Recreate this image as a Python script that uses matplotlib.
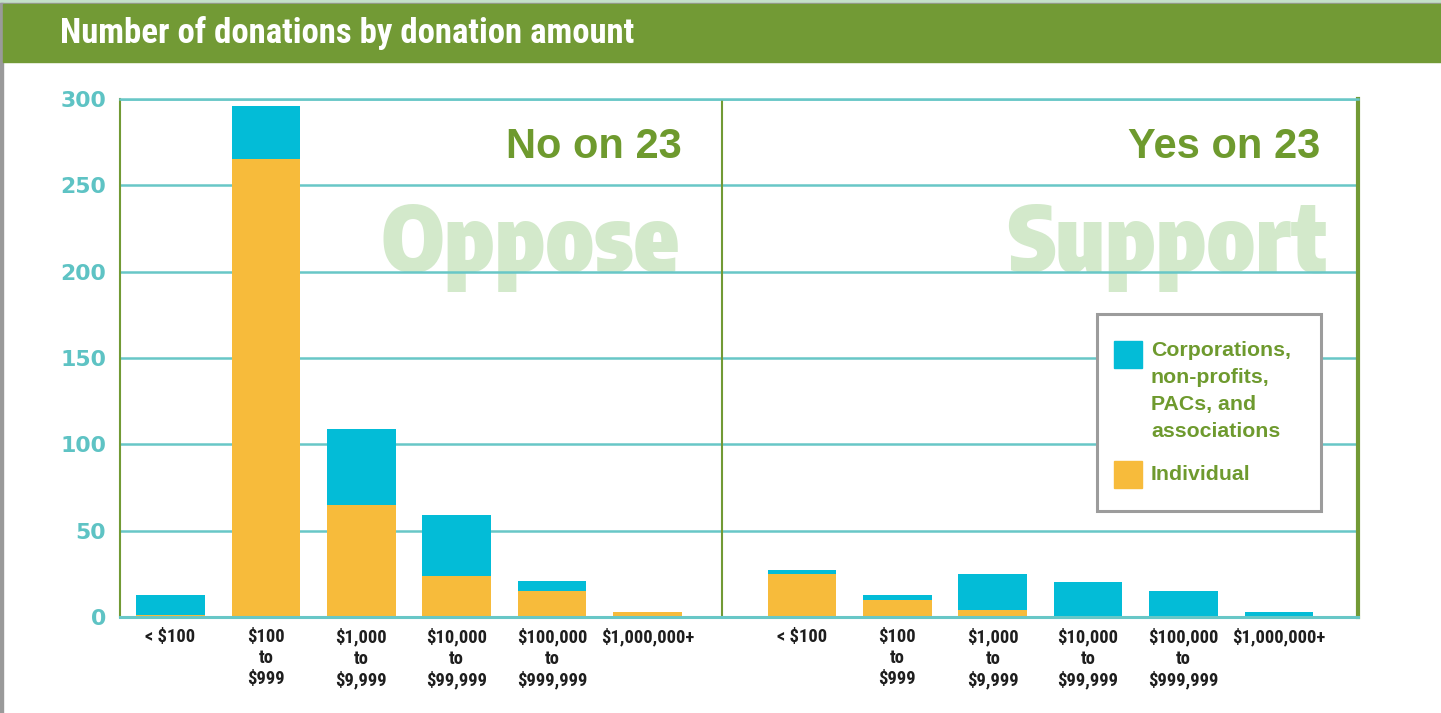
import numpy as np
import matplotlib
matplotlib.use("Agg")
import matplotlib.pyplot as plt
from matplotlib.patches import Rectangle

categories = ["< $100", "$100\nto\n$999", "$1,000\nto\n$9,999", "$10,000\nto\n$99,999",
              "$100,000\nto\n$999,999", "$1,000,000+"]
oppose_individual = [1, 265, 65, 24, 15, 3]
oppose_corp = [12, 31, 44, 35, 6, 0]
support_individual = [25, 10, 4, 0, 0, 0]
support_corp = [2, 3, 21, 20, 15, 3]
yticks = [0, 50, 100, 150, 200, 250, 300]

GREEN = "#729a35"
TEXT_GREEN = "#6e9a2e"
TEAL = "#68c7c7"
CYAN = "#03bcd7"
YELLOW = "#f7bb3b"
WATER = "#d3e9cb"

plt.rcParams["text.parse_math"] = False
COND = ["Roboto Condensed", "Liberation Sans"]
HEAVY = ["Encode Sans Condensed", "Liberation Sans"]
WIDE = ["Liberation Sans", "DejaVu Sans"]

W, H = 1441, 713
fig = plt.figure(figsize=(W / 100, H / 100), dpi=100)

# frame and title bar
fig.patches.append(Rectangle((0, 1 - 3 / H), 1, 3 / H, transform=fig.transFigure, color="#c4e0c9"))
fig.patches.append(Rectangle((0, 1 - 4 / H), 1, 1.2 / H, transform=fig.transFigure, color="#9a9a9a"))
fig.patches.append(Rectangle((0, 0), 3 / W, 1 - 3 / H, transform=fig.transFigure, color="#9a9a9a"))
fig.patches.append(Rectangle((3 / W, 1 - 62 / H), 1, 58 / H, transform=fig.transFigure, color=GREEN))
fig.text(60 / W, 1 - 33 / H, "Number of donations by donation amount", color="white",
         fontsize=25, fontweight="bold", family=COND, va="center", ha="left")

ax = fig.add_axes([120 / W, 1 - 617 / H, (1358 - 120) / W, (617 - 99) / H])

x_left = np.arange(len(categories))
x_right = np.arange(len(categories)) + 6.62
width = 0.72

ax.bar(x_left, oppose_individual, width, color=YELLOW, zorder=2)
ax.bar(x_left, oppose_corp, width, bottom=oppose_individual, color=CYAN, zorder=2)
ax.bar(x_right, support_individual, width, color=YELLOW, zorder=2)
ax.bar(x_right, support_corp, width, bottom=support_individual, color=CYAN, zorder=2)

ax.set_xlim(-0.53, 12.45)
ax.set_ylim(0, 300)
ax.set_yticks(yticks)
ax.set_xticks(np.concatenate([x_left, x_right]))
ax.set_xticklabels(categories + categories, fontsize=13.3, fontweight="bold",
                   family=COND, color="#1e1e1e", linespacing=1.22)
ax.tick_params(axis="x", length=0, pad=8)
ax.tick_params(axis="y", length=0, pad=10, labelsize=15.8, labelcolor="#5ec3c4")
for lab in ax.get_yticklabels():
    lab.set_fontweight("bold")
    lab.set_family("DejaVu Sans")

ax.set_axisbelow(True)
ax.yaxis.grid(True, color=TEAL, linewidth=1.8)
ax.spines["top"].set_color(TEAL)
ax.spines["top"].set_linewidth(1.8)
ax.spines["bottom"].set_color(TEAL)
ax.spines["bottom"].set_linewidth(2.2)
ax.spines["left"].set_color(GREEN)
ax.spines["left"].set_linewidth(1.5)
ax.spines["right"].set_color(GREEN)
ax.spines["right"].set_linewidth(3)
ax.axvline(5.78, color=GREEN, linewidth=1.5, zorder=1)

# panel headings and watermarks
ax.text((680 - 120) / 1238, 200, "Oppose", transform=ax.get_yaxis_transform(), ha="right",
        va="baseline", fontsize=66, fontweight=900, family=HEAVY, color=WATER, zorder=0.3)
ax.text((1327 - 120) / 1238, 200, "Support", transform=ax.get_yaxis_transform(), ha="right",
        va="baseline", fontsize=66, fontweight=900, family=HEAVY, color=WATER, zorder=0.3)
ax.text((682 - 120) / 1238, 266, "No on 23", transform=ax.get_yaxis_transform(), ha="right",
        va="baseline", fontsize=30, fontweight="bold", family=WIDE, color=TEXT_GREEN)
ax.text((1320 - 120) / 1238, 266, "Yes on 23", transform=ax.get_yaxis_transform(), ha="right",
        va="baseline", fontsize=30, fontweight="bold", family=WIDE, color=TEXT_GREEN)

# legend box
fig.patches.append(Rectangle((1097 / W, 1 - 511 / H), 224 / W, 197 / H, transform=fig.transFigure,
                             facecolor="white", edgecolor="#9c9c9c", linewidth=2.2, zorder=5))
fig.patches.append(Rectangle((1114 / W, 1 - 368 / H), 28 / W, 27 / H, transform=fig.transFigure,
                             color=CYAN, zorder=6))
fig.patches.append(Rectangle((1114 / W, 1 - 488 / H), 28 / W, 27 / H, transform=fig.transFigure,
                             color=YELLOW, zorder=6))
fig.text(1151 / W, 1 - 341 / H, "Corporations,\nnon-profits,\nPACs, and\nassociations",
         color=TEXT_GREEN, fontsize=15.3, fontweight="bold", family=WIDE, va="top", ha="left",
         linespacing=1.53, zorder=6)
fig.text(1151 / W, 1 - 474 / H, "Individual", color=TEXT_GREEN, fontsize=15.3, fontweight="bold",
         family=WIDE, va="center", ha="left", zorder=6)

fig.savefig("out.png", dpi=100)
